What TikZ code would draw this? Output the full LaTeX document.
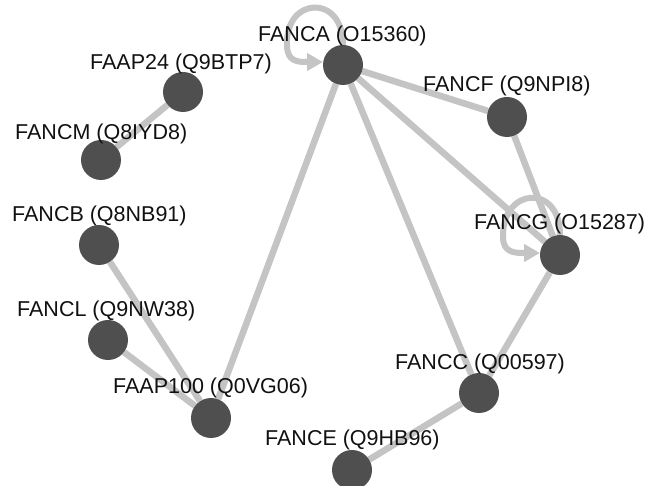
\documentclass[tikz,border=0pt]{standalone}
\usepackage{fontspec}
\setmainfont{Liberation Sans}
\usetikzlibrary{arrows.meta,calc,backgrounds}
\definecolor{edgegray}{HTML}{C4C4C4}
\definecolor{nodegray}{HTML}{4F4F4F}
\definecolor{txt}{HTML}{111111}
\begin{document}
\begin{tikzpicture}[x=1pt,y=-1pt,
  prot/.style={circle,fill=nodegray,minimum size=40pt,inner sep=0pt},
  lbl/.style={anchor=base west,inner sep=0pt,text=txt,font=\fontsize{21.5}{25}\selectfont},
  link/.style={draw=edgegray,line width=6.5pt},
  selfloop/.style={draw=edgegray,line width=6pt,-{Triangle[length=16pt,width=17pt]}}]
\useasboundingbox (0,0) rectangle (648,486);
% proteins
\node[prot] (A)    at (343,65)  {};
\node[prot] (F)    at (507,117) {};
\node[prot] (G)    at (560,255) {};
\node[prot] (C)    at (479,393) {};
\node[prot] (E)    at (352,470) {};
\node[prot] (P100) at (211,418) {};
\node[prot] (L)    at (108,340) {};
\node[prot] (B)    at (99,245)  {};
\node[prot] (M)    at (101,160) {};
\node[prot] (P24)  at (183,92)  {};
% labels
\node[lbl] (lA)    at (258,42)  {FANCA (O15360)};
\node[lbl] (lP24)  at (90,70)   {FAAP24 (Q9BTP7)};
\node[lbl] (lM)    at (15,140)  {FANCM (Q8IYD8)};
\node[lbl] (lF)    at (423,92)  {FANCF (Q9NPI8)};
\node[lbl] (lG)    at (474,230) {FANCG (O15287)};
\node[lbl] (lB)    at (12,222)  {FANCB (Q8NB91)};
\node[lbl] (lL)    at (17,317)  {FANCL (Q9NW38)};
\node[lbl] (lP100) at (113,393) {FAAP100 (Q0VG06)};
\node[lbl] (lC)    at (395,370) {FANCC (Q00597)};
\node[lbl] (lE)    at (265,445) {FANCE (Q9HB96)};
% connectors
\begin{scope}[on background layer]
\fill[white] (0,0) rectangle (648,486);
\draw[link] (A) -- (F);
\draw[link] (A) -- (G);
\draw[link] (A) -- (C);
\draw[link] (A) -- (P100);
\draw[link] (F) -- (G);
\draw[link] (G) -- (C);
\draw[link] (C) -- (E);
\draw[link] (B) -- (P100);
\draw[link] (L) -- (P100);
\draw[link] (P24) -- (M);
\draw[selfloop] ($(A)+(0,-20)$) .. controls ($(A)+(0,-72)$) and ($(A)+(-58,-68)$) .. ($(A)+(-56,-20)$) .. controls ($(A)+(-56,-3)$) and ($(A)+(-45,-3)$) .. ($(A)+(-20,-3)$);
\draw[selfloop] ($(G)+(0,-20)$) .. controls ($(G)+(0,-72)$) and ($(G)+(-58,-68)$) .. ($(G)+(-57,-18)$) .. controls ($(G)+(-57,-2)$) and ($(G)+(-45,-2)$) .. ($(G)+(-20,-2)$);
\end{scope}
\end{tikzpicture}
\end{document}
